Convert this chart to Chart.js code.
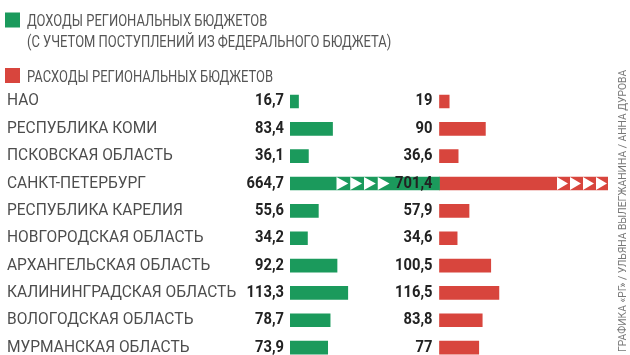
<!DOCTYPE html>
<html>
<head>
<meta charset="utf-8">
<script src="https://cdn.jsdelivr.net/npm/chart.js@4/dist/chart.umd.min.js"></script>
<style>
  html, body { margin: 0; padding: 0; background: #fff; overflow: hidden; }
  #wrap { position: relative; width: 630px; height: 372px; }
</style>
</head>
<body>
<div id="wrap"><canvas id="budget-chart"></canvas></div>
<script>
// Регионы СЗФО
const regions = [
  'НАО', 'РЕСПУБЛИКА КОМИ', 'ПСКОВСКАЯ ОБЛАСТЬ', 'САНКТ-ПЕТЕРБУРГ', 'РЕСПУБЛИКА КАРЕЛИЯ',
  'НОВГОРОДСКАЯ ОБЛАСТЬ', 'АРХАНГЕЛЬСКАЯ ОБЛАСТЬ', 'КАЛИНИНГРАДСКАЯ ОБЛАСТЬ',
  'ВОЛОГОДСКАЯ ОБЛАСТЬ', 'МУРМАНСКАЯ ОБЛАСТЬ'
];
// Доходы, млрд руб.
const incomes = [16.7, 83.4, 36.1, 664.7, 55.6, 34.2, 92.2, 113.3, 78.7, 73.9];
// Расходы, млрд руб.
const expenses = [19, 90, 36.6, 701.4, 57.9, 34.6, 100.5, 116.5, 83.8, 77];

const legendLabels = [
  ['ДОХОДЫ РЕГИОНАЛЬНЫХ БЮДЖЕТОВ', '(С УЧЕТОМ ПОСТУПЛЕНИЙ ИЗ ФЕДЕРАЛЬНОГО БЮДЖЕТА)'],
  ['РАСХОДЫ РЕГИОНАЛЬНЫХ БЮДЖЕТОВ']
];
const credit = 'ГРАФИКА «РГ» / УЛЬЯНА ВЫЛЕГЖАНИНА / АННА ДУРОВА';

const GREEN = '#1b9a5c';
const RED = '#d8453d';

// шкалы: обе колонки в одном масштабе, красная начинается правее
const PX_PER_UNIT = 0.51;
const AREA_LEFT = 290;
const AREA_RIGHT = 608;
const RED_START = 439.5;
const xMax = (AREA_RIGHT - AREA_LEFT) / PX_PER_UNIT;
const x2Min = -(RED_START - AREA_LEFT) / PX_PER_UNIT;
const x2Max = xMax + x2Min;

// разрыв шкалы для Петербурга
const incomeShown = incomes.map(v => Math.min(v, -x2Min));
const expenseShown = expenses.map(v => Math.min(v, x2Max));

const fmt = v => String(v).replace('.', ',');

function drawText(ctx, text, x, y, sx) {
  ctx.save();
  ctx.translate(x, y);
  ctx.scale(sx, 1);
  ctx.fillText(text, 0, 0);
  ctx.restore();
}

function drawArrows(ctx, xEnd, top, h, count, w) {
  ctx.fillStyle = '#fff';
  for (let i = 0; i < count; i++) {
    const x0 = xEnd - (count - i) * w;
    ctx.beginPath();
    ctx.moveTo(x0 + 1, top);
    ctx.lineTo(x0 + w - 1, top + h / 2);
    ctx.lineTo(x0 + 1, top + h);
    ctx.closePath();
    ctx.fill();
  }
}

const decorPlugin = {
  id: 'decor',
  afterDatasetsDraw(chart) {
    const ctx = chart.ctx;
    const yScale = chart.scales.y;
    const metaG = chart.getDatasetMeta(0);
    const metaR = chart.getDatasetMeta(1);
    ctx.save();
    ctx.textBaseline = 'middle';

    regions.forEach((name, i) => {
      const y = yScale.getPixelForValue(i);
      ctx.fillStyle = '#4d4d4d';
      ctx.font = '400 16px Roboto';
      ctx.textAlign = 'left';
      drawText(ctx, name, 7, y, 0.97);

      const g = metaG.data[i];
      const r = metaR.data[i];
      const top = g.y - g.height / 2;

      if (incomes[i] > incomeShown[i]) {
        drawArrows(ctx, g.x - 49, top, g.height, 4, 13.75);
      }
      if (expenses[i] > expenseShown[i]) {
        drawArrows(ctx, r.x, top, r.height, 4, 13);
      }

      ctx.fillStyle = '#222';
      ctx.font = '700 16px Roboto';
      ctx.textAlign = 'right';
      drawText(ctx, fmt(incomes[i]), g.base - 6, y, 0.92);
      drawText(ctx, fmt(expenses[i]), r.base - 7, y, 0.92);
    });

    // легенда
    const legendRows = [[GREEN, 12.5, legendLabels[0]], [RED, 68, legendLabels[1]]];
    legendRows.forEach(([color, top, lines]) => {
      ctx.fillStyle = color;
      ctx.fillRect(5, top, 15, 15);
      ctx.fillStyle = '#555';
      ctx.font = '400 16px Roboto';
      ctx.textAlign = 'left';
      lines.forEach((t, k) => drawText(ctx, t, 27, top + 9.5 + k * 20.5, 0.81));
    });

    // подпись авторов
    ctx.save();
    ctx.translate(623, 352);
    ctx.rotate(-Math.PI / 2);
    ctx.fillStyle = '#777';
    ctx.font = '400 10.3px Roboto';
    ctx.textAlign = 'left';
    ctx.fillText(credit, 0, 0);
    ctx.restore();

    ctx.restore();
  }
};

const ctx = document.getElementById('budget-chart').getContext('2d');
new Chart(ctx, {
  type: 'bar',
  data: {
    labels: regions,
    datasets: [{
      label: legendLabels[0].join(' '),
      data: incomeShown,
      backgroundColor: GREEN,
      xAxisID: 'x',
      grouped: false,
      barThickness: 13
    }, {
      label: legendLabels[1][0],
      data: expenseShown,
      backgroundColor: RED,
      xAxisID: 'x2',
      grouped: false,
      barThickness: 13
    }]
  },
  options: {
    indexAxis: 'y',
    responsive: true,
    maintainAspectRatio: false,
    animation: false,
    layout: { padding: { left: AREA_LEFT, right: 630 - AREA_RIGHT, top: 87.8, bottom: 10.7 } },
    plugins: { legend: { display: false }, tooltip: { enabled: false } },
    scales: {
      x: { display: false, min: 0, max: xMax },
      x2: { display: false, min: x2Min, max: x2Max },
      y: { display: false }
    }
  },
  plugins: [decorPlugin]
});
</script>
</body>
</html>
